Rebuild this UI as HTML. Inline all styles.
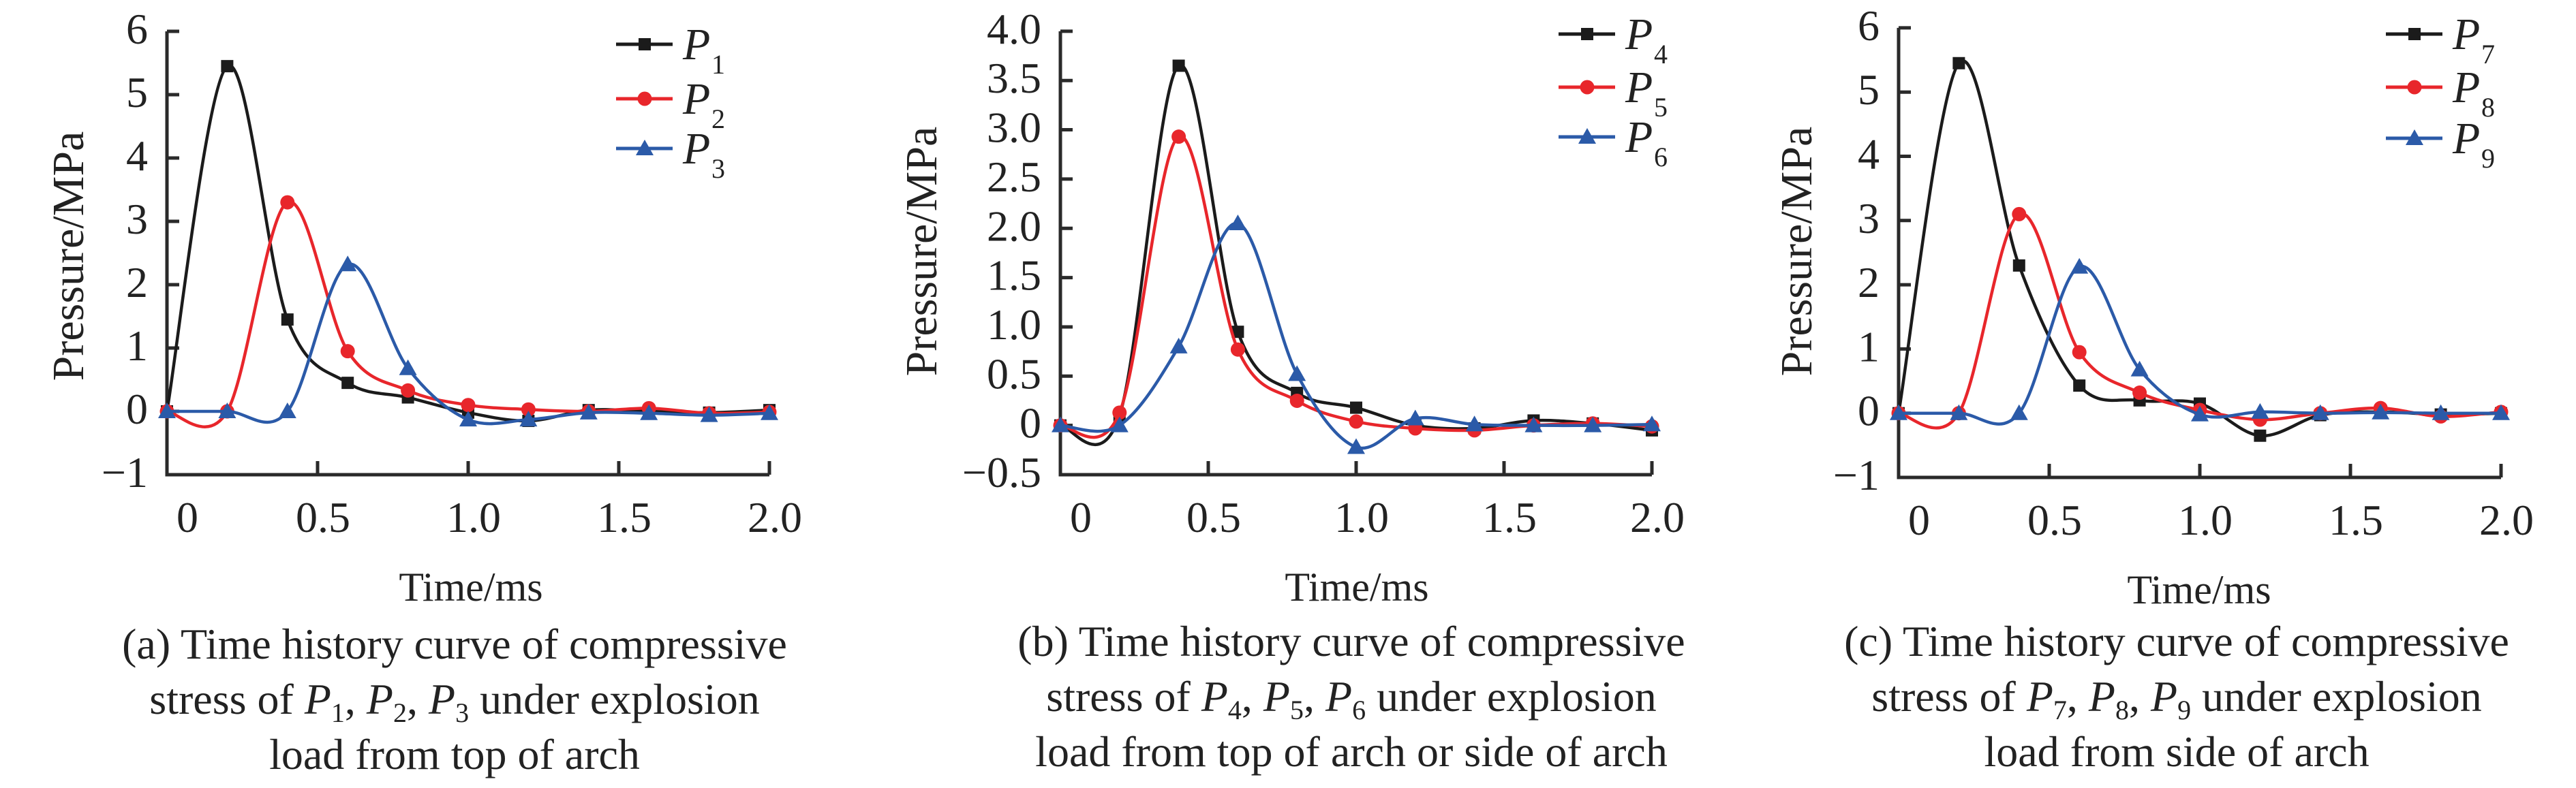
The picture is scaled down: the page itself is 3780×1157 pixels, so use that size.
<!DOCTYPE html>
<html><head><meta charset="utf-8"><style>
html,body{margin:0;padding:0;background:#fff;}
svg{display:block;font-family:"Liberation Serif",serif;}
svg text{font-family:"Liberation Serif",serif;}
</style></head><body>
<svg id="fig" width="3780" height="1157" viewBox="0 0 3780 1157" xmlns="http://www.w3.org/2000/svg" font-family="Liberation Serif, serif">
<rect width="3780" height="1157" fill="#fff"/>
</svg>
<script>
const timesMs = [0, 0.2, 0.4, 0.6, 0.8, 1.0, 1.2, 1.4, 1.6, 1.8, 2.0];
const xTickLabels = ["0", "0.5", "1.0", "1.5", "2.0"];
const xTickValues = [0, 0.5, 1.0, 1.5, 2.0];
// panel a
const p1 = [0, 5.45, 1.45, 0.45, 0.22, -0.02, -0.15, 0.02, 0.0, -0.02, 0.02];
const p2 = [0, 0, 3.3, 0.95, 0.33, 0.1, 0.03, 0.0, 0.05, -0.03, -0.01];
const p3 = [0, 0, 0, 2.32, 0.68, -0.13, -0.13, -0.02, -0.03, -0.06, -0.03];
// panel b
const p4 = [0, 0.1, 3.65, 0.95, 0.33, 0.18, 0.0, -0.03, 0.05, 0.02, -0.05];
const p5 = [0, 0.13, 2.93, 0.77, 0.25, 0.04, -0.03, -0.05, 0.0, 0.02, -0.01];
const p6 = [0, 0.0, 0.8, 2.05, 0.52, -0.22, 0.07, 0.01, 0.0, 0.0, 0.01];
// panel c
const p7 = [0, 5.45, 2.3, 0.43, 0.2, 0.15, -0.35, -0.03, 0.02, -0.02, 0.0];
const p8 = [0, 0, 3.1, 0.95, 0.32, 0.05, -0.1, 0.0, 0.08, -0.05, 0.02];
const p9 = [0, 0, 0, 2.28, 0.68, -0.02, 0.02, 0.0, 0.01, 0.0, 0.0];
const yTicksA = [-1, 0, 1, 2, 3, 4, 5, 6];
const yTickLabelsA = ["\u22121", "0", "1", "2", "3", "4", "5", "6"];
const yTicksB = [-0.5, 0, 0.5, 1.0, 1.5, 2.0, 2.5, 3.0, 3.5, 4.0];
const yTickLabelsB = ["\u22120.5", "0", "0.5", "1.0", "1.5", "2.0", "2.5", "3.0", "3.5", "4.0"];

const NS = "http://www.w3.org/2000/svg";
const svg = document.getElementById("fig");
const COLORS = ["#1b1b1b", "#e8262b", "#2b5aa8"];
const SERIF = "Liberation Serif, serif";

function mk(tag, attrs, parent) {
  const e = document.createElementNS(NS, tag);
  for (const k in attrs) e.setAttribute(k, attrs[k]);
  if (tag === "text") e.setAttribute("font-family", SERIF);
  (parent || svg).appendChild(e);
  return e;
}
function smoothPath(pts) {
  let d = "M" + pts[0][0] + "," + pts[0][1];
  for (let i = 0; i < pts.length - 1; i++) {
    const p0 = pts[Math.max(0, i - 1)], p1 = pts[i], p2 = pts[i + 1], p3 = pts[Math.min(pts.length - 1, i + 2)];
    const c1x = p1[0] + (p2[0] - p0[0]) / 6, c1y = p1[1] + (p2[1] - p0[1]) / 6;
    const c2x = p2[0] - (p3[0] - p1[0]) / 6, c2y = p2[1] - (p3[1] - p1[1]) / 6;
    d += " C" + c1x + "," + c1y + " " + c2x + "," + c2y + " " + p2[0] + "," + p2[1];
  }
  return d;
}
function marker(g, kind, x, y, color) {
  let m;
  if (kind === 0) m = mk("rect", {x: x - 9, y: y - 9, width: 18, height: 18, fill: color}, g);
  else if (kind === 1) m = mk("circle", {cx: x, cy: y, r: 10.5, fill: color}, g);
  else m = mk("polygon", {points: (x) + "," + (y - 13) + " " + (x + 13) + "," + (y + 10) + " " + (x - 13) + "," + (y + 10), fill: color}, g);
  return m;
}

function panel(cfg) {
  const g = mk("g", {"font-family": SERIF});
  
  
  const xs = v => cfg.x0 + v * cfg.xPerUnit;
  const ys = v => cfg.yBase - (v - cfg.yMin) * cfg.yPerUnit;
  const yTop = ys(cfg.yMax), yBot = ys(cfg.yMin), xEnd = xs(2.0);
  const ax = mk("path", {d: "M" + cfg.x0 + "," + yTop + " L" + cfg.x0 + "," + yBot + " L" + xEnd + "," + yBot, fill: "none", stroke: "#2a2a2a", "stroke-width": 5}, g);
  
  
  cfg.yTicks.forEach((v, i) => {
    const y = ys(v);
    if (v !== cfg.yMin) {
      const t = mk("line", {x1: cfg.x0, x2: cfg.x0 + 18, y1: y, y2: y, stroke: "#2a2a2a", "stroke-width": 5}, g);
      
      
    }
    const lb = mk("text", {x: cfg.x0 - 28, y: y + 18, "text-anchor": "end", "font-size": 64, fill: "#222"}, g);
    lb.textContent = cfg.yLabels[i];
    
    
  });
  xTickValues.forEach((v, i) => {
    const x = xs(v);
    if (v !== 0) {
      const t = mk("line", {x1: x, x2: x, y1: yBot, y2: yBot - 20, stroke: "#2a2a2a", "stroke-width": 5}, g);
      
      
    }
    const lb = mk("text", {x: v === 0 ? x + 30 : x + 8, y: yBot + 84, "text-anchor": "middle", "font-size": 64, fill: "#222"}, g);
    lb.textContent = xTickLabels[i];
    
    
  });
  cfg.series.forEach((s, k) => {
    const pts = timesMs.map((t, i) => [xs(t), ys(s[i])]);
    const sg = mk("g", {}, g);
    
    
    const ln = mk("path", {d: smoothPath(pts), fill: "none", stroke: COLORS[k], "stroke-width": 4.5}, sg);
    
    
    pts.forEach(p => {
      const m = marker(sg, k, p[0], p[1], COLORS[k]);
      
      
    });
  });
  cfg.labels.forEach((lbl, k) => {
    const y = cfg.legY[k];
    const lg = mk("g", {}, g);
    
    
    mk("line", {x1: cfg.legX, x2: cfg.legX + 83, y1: y, y2: y, stroke: COLORS[k], "stroke-width": 5}, lg);
    marker(lg, k, cfg.legX + 42, y, COLORS[k]);
    const t = mk("text", {x: cfg.legX + 98, y: y + 22, "font-size": 66, "font-style": "italic", fill: "#222"}, lg);
    t.textContent = "P";
    const sub = mk("text", {x: cfg.legX + 140, y: y + 43, "font-size": 40, fill: "#222"}, lg);
    sub.textContent = lbl.slice(1);
  });
  const yt = mk("text", {x: 0, y: 0, transform: "translate(" + cfg.yTitleX + "," + cfg.yTitleY + ") rotate(-90)", "text-anchor": "middle", "font-size": 66, fill: "#222"}, g);
  yt.textContent = "Pressure/MPa";
  
  
  const xt = mk("text", {x: cfg.xTitleX, y: cfg.xTitleY, "text-anchor": "middle", "font-size": 60, fill: "#222"}, g);
  xt.textContent = "Time/ms";
  
  
  const cap = mk("g", {}, g);
  
  
  cfg.caption.forEach((line, i) => {
    const t = mk("text", {x: cfg.capX, y: cfg.capY[i], "text-anchor": "middle", "font-size": 64, fill: "#222"}, cap);
    t.innerHTML = line;
  });
}

function capLine(prefix, a, b, c, suffix) {
  const P = n => '<tspan font-style="italic">P</tspan><tspan font-size="40" dy="12">' + n + '</tspan><tspan dy="-12">';
  return prefix + P(a) + ', </tspan>' + P(b) + ', </tspan>' + P(c) + ' ' + suffix + '</tspan>';
}

panel({name: "chart-a", x0: 245, xPerUnit: 442, yBase: 697, yMin: -1, yMax: 6, yPerUnit: 93,
  yTicks: yTicksA, yLabels: yTickLabelsA, series: [p1, p2, p3], labels: ["P1", "P2", "P3"],
  legX: 904, legY: [65, 145, 218], yTitleX: 122, yTitleY: 376, xTitleX: 691, xTitleY: 882,
  capX: 667, capY: [967, 1048, 1129],
  caption: ["(a) Time history curve of compressive", capLine("stress of ", "1", "2", "3", "under explosion"), "load from top of arch"]});
panel({name: "chart-b", x0: 1556, xPerUnit: 434, yBase: 697, yMin: -0.5, yMax: 4.0, yPerUnit: 144.7,
  yTicks: yTicksB, yLabels: yTickLabelsB, series: [p4, p5, p6], labels: ["P4", "P5", "P6"],
  legX: 2287, legY: [50, 128, 201], yTitleX: 1374, yTitleY: 369, xTitleX: 1991, xTitleY: 882,
  capX: 1983, capY: [963, 1044, 1125],
  caption: ["(b) Time history curve of compressive", capLine("stress of ", "4", "5", "6", "under explosion"), "load from top of arch or side of arch"]});
panel({name: "chart-c", x0: 2786, xPerUnit: 442, yBase: 701, yMin: -1, yMax: 6, yPerUnit: 94.3,
  yTicks: yTicksA, yLabels: yTickLabelsA, series: [p7, p8, p9], labels: ["P7", "P8", "P9"],
  legX: 3501, legY: [50, 128, 203], yTitleX: 2658, yTitleY: 369, xTitleX: 3227, xTitleY: 886,
  capX: 3194, capY: [963, 1044, 1125],
  caption: ["(c) Time history curve of compressive", capLine("stress of ", "7", "8", "9", "under explosion"), "load from side of arch"]});
</script>
</body></html>
